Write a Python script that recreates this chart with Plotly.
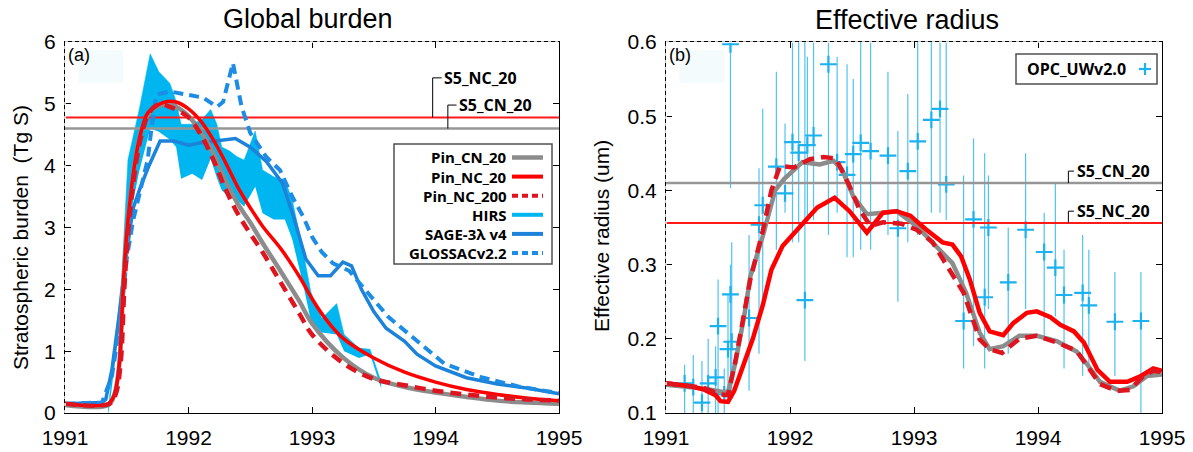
import plotly.graph_objects as go

W, H = 1193, 452

# ---------------- data ----------------
year_ticks = [1991, 1992, 1993, 1994, 1995]
year_labels = ["1991", "1992", "1993", "1994", "1995"]
burden_ticks = [0, 1, 2, 3, 4, 5, 6]
radius_ticks = [0.1, 0.2, 0.3, 0.4, 0.5, 0.6]
radius_labels = ["0.1", "0.2", "0.3", "0.4", "0.5", "0.6"]

# (a) global burden, Tg S
a_cn20_t = [1991.0, 1991.35, 1991.40, 1991.44, 1991.47, 1991.50, 1991.53, 1991.57, 1991.61, 1991.67,
            1991.72, 1991.78, 1991.85, 1991.92, 1992.0, 1992.1, 1992.2, 1992.3, 1992.4, 1992.5,
            1992.6, 1992.75, 1992.9, 1993.0, 1993.25, 1993.5, 1993.75, 1994.0, 1994.25, 1994.5,
            1994.75, 1995.0]
a_cn20_v = [0.13, 0.13, 0.30, 0.80, 2.00, 2.90, 3.50, 4.10, 4.50, 4.82,
            4.93, 4.98, 4.99, 4.93, 4.80, 4.55, 4.20, 3.75, 3.38, 3.08,
            2.75, 2.28, 1.80, 1.45, 0.90, 0.57, 0.42, 0.33, 0.26, 0.20,
            0.17, 0.15]

a_nc20_t = [1991.0, 1991.35, 1991.40, 1991.44, 1991.47, 1991.50, 1991.53, 1991.57, 1991.61, 1991.67,
            1991.75, 1991.83, 1991.90, 1992.0, 1992.1, 1992.2, 1992.3, 1992.4, 1992.5, 1992.6,
            1992.75, 1992.9, 1993.0, 1993.1, 1993.25, 1993.5, 1993.75, 1994.0, 1994.25, 1994.5,
            1994.75, 1995.0]
a_nc20_v = [0.15, 0.15, 0.30, 0.80, 2.00, 2.90, 3.50, 4.10, 4.50, 4.85,
            4.98, 5.04, 5.03, 4.92, 4.72, 4.42, 4.05, 3.65, 3.32, 3.02,
            2.65, 2.20, 1.85, 1.55, 1.21, 0.89, 0.66, 0.50, 0.38, 0.30,
            0.24, 0.20]

a_nc200_t = [1991.0, 1991.36, 1991.41, 1991.45, 1991.48, 1991.51, 1991.54, 1991.58, 1991.62, 1991.68,
             1991.76, 1991.85, 1992.0, 1992.1, 1992.2, 1992.3, 1992.4, 1992.5, 1992.6, 1992.75,
             1992.9, 1993.0, 1993.25, 1993.5, 1993.75, 1994.0, 1994.25, 1994.5, 1994.75, 1995.0]
a_nc200_v = [0.15, 0.15, 0.30, 0.80, 2.00, 2.90, 3.50, 4.10, 4.50, 4.85,
             4.99, 4.95, 4.78, 4.50, 4.10, 3.62, 3.22, 2.90, 2.60, 2.10,
             1.60, 1.27, 0.81, 0.55, 0.45, 0.36, 0.30, 0.25, 0.22, 0.20]

sage_t = [1991.0, 1991.30, 1991.33, 1991.38, 1991.44, 1991.50, 1991.55, 1991.61, 1991.68, 1991.77,
          1991.88, 1992.0, 1992.1, 1992.25, 1992.38, 1992.5, 1992.63, 1992.76, 1992.85, 1992.95,
          1993.05, 1993.15, 1993.25, 1993.32, 1993.40, 1993.5, 1993.6, 1993.75, 1993.85, 1994.0,
          1994.25, 1994.5, 1994.75, 1995.0]
sage_v = [0.15, 0.17, 0.22, 0.70, 1.60, 2.60, 3.30, 3.65, 4.00, 4.40,
          4.40, 4.33, 4.37, 4.40, 4.44, 4.30, 4.07, 3.72, 3.18, 2.49,
          2.22, 2.22, 2.44, 2.38, 2.00, 1.64, 1.37, 1.16, 0.95, 0.76,
          0.57, 0.47, 0.40, 0.31]

glossac_t = [1991.0, 1991.30, 1991.38, 1991.45, 1991.50, 1991.55, 1991.61, 1991.67, 1991.70, 1991.74,
             1991.85, 1992.0, 1992.12, 1992.23, 1992.28, 1992.36, 1992.43, 1992.50, 1992.63, 1992.74,
             1992.84, 1992.93, 1993.0, 1993.08, 1993.17, 1993.30, 1993.47, 1993.62, 1993.77, 1993.92,
             1994.07, 1994.37, 1994.67, 1995.0]
glossac_v = [0.15, 0.17, 0.60, 1.50, 2.50, 3.10, 3.60, 4.10, 4.60, 5.15,
             5.20, 5.15, 5.10, 4.95, 5.03, 5.66, 4.95, 4.53, 4.14, 3.93,
             3.50, 3.17, 2.85, 2.60, 2.42, 2.30, 1.90, 1.55, 1.30, 1.05,
             0.80, 0.58, 0.43, 0.32]

hirs_t = [1991.35, 1991.46, 1991.51, 1991.60, 1991.69, 1991.76, 1991.85, 1991.90, 1991.94, 1992.03,
          1992.11, 1992.18, 1992.23, 1992.27, 1992.33, 1992.39, 1992.45, 1992.54, 1992.60, 1992.69,
          1992.78, 1992.84, 1992.93, 1992.99, 1993.08, 1993.20, 1993.26, 1993.38, 1993.47, 1993.56]
hirs_hi = [0.05, 2.20, 4.10, 4.90, 5.81, 5.52, 5.33, 5.04, 4.67, 4.67,
           4.75, 4.91, 4.67, 4.30, 4.24, 4.15, 4.09, 4.56, 3.93, 3.82,
           3.77, 3.45, 2.60, 1.96, 1.53, 1.77, 1.27, 1.05, 1.03, 0.50]
hirs_lo = [-0.05, 1.70, 3.00, 3.90, 4.60, 4.55, 4.42, 4.30, 3.79, 3.87,
           3.77, 4.11, 3.80, 3.60, 3.50, 3.45, 3.34, 3.66, 3.23, 3.13,
           3.13, 2.81, 2.06, 1.50, 1.30, 1.27, 1.00, 0.89, 0.95, 0.40]

S5_NC_20_burden = 4.78
S5_CN_20_burden = 4.60

# (b) effective radius, um
b_cn20_t = [1991.0, 1991.2, 1991.3, 1991.44, 1991.5, 1991.56, 1991.63, 1991.68, 1991.78, 1991.88,
            1991.95, 1992.1, 1992.24, 1992.35, 1992.42, 1992.51, 1992.62, 1992.75, 1992.86, 1993.02,
            1993.15, 1993.26, 1993.31, 1993.42, 1993.53, 1993.61, 1993.72, 1993.85, 1993.99, 1994.15,
            1994.31, 1994.39, 1994.5, 1994.66, 1994.77, 1994.88, 1995.0]
b_cn20_v = [0.138, 0.135, 0.133, 0.129, 0.128, 0.168, 0.230, 0.284, 0.338, 0.400,
            0.415, 0.438, 0.435, 0.440, 0.428, 0.392, 0.368, 0.370, 0.372, 0.352,
            0.330, 0.311, 0.302, 0.262, 0.208, 0.186, 0.190, 0.204, 0.204, 0.197,
            0.183, 0.167, 0.142, 0.130, 0.136, 0.150, 0.152]

b_nc20_t = [1991.0, 1991.2, 1991.3, 1991.4, 1991.44, 1991.5, 1991.55, 1991.6, 1991.7, 1991.78,
            1991.85, 1991.94, 1992.08, 1992.22, 1992.36, 1992.48, 1992.62, 1992.75, 1992.86, 1992.97,
            1993.1, 1993.23, 1993.31, 1993.38, 1993.45, 1993.53, 1993.61, 1993.72, 1993.8, 1993.91,
            1993.99, 1994.1, 1994.18, 1994.29, 1994.37, 1994.48, 1994.58, 1994.72, 1994.82, 1994.93,
            1995.0]
b_nc20_v = [0.140, 0.136, 0.132, 0.124, 0.116, 0.115, 0.130, 0.154, 0.200, 0.245,
            0.293, 0.325, 0.352, 0.377, 0.390, 0.372, 0.343, 0.370, 0.372, 0.366,
            0.347, 0.330, 0.327, 0.311, 0.280, 0.235, 0.210, 0.205, 0.221, 0.235,
            0.237, 0.229, 0.219, 0.210, 0.195, 0.158, 0.142, 0.142, 0.149, 0.160,
            0.157]

b_nc200_t = [1991.0, 1991.2, 1991.3, 1991.44, 1991.5, 1991.56, 1991.63, 1991.68, 1991.78, 1991.85,
             1991.92, 1992.03, 1992.16, 1992.27, 1992.37, 1992.48, 1992.56, 1992.65, 1992.75, 1992.9,
             1993.02, 1993.15, 1993.26, 1993.4, 1993.53, 1993.61, 1993.71, 1993.85, 1993.99, 1994.15,
             1994.31, 1994.42, 1994.5, 1994.63, 1994.74, 1994.85, 1994.93, 1995.0]
b_nc200_v = [0.140, 0.137, 0.134, 0.125, 0.124, 0.170, 0.235, 0.280, 0.345, 0.400,
             0.433, 0.431, 0.442, 0.445, 0.443, 0.406, 0.374, 0.352, 0.357, 0.355,
             0.347, 0.330, 0.300, 0.262, 0.199, 0.186, 0.181, 0.200, 0.204, 0.195,
             0.184, 0.159, 0.139, 0.130, 0.131, 0.150, 0.157, 0.155]

opc_t = [1991.15, 1991.22, 1991.29, 1991.34, 1991.40, 1991.42, 1991.47, 1991.50, 1991.52, 1991.53,
         1991.52, 1991.67, 1991.75, 1991.78, 1991.89, 1991.96, 1992.02, 1992.07, 1992.12, 1992.14,
         1992.19, 1992.31, 1992.38, 1992.46, 1992.51, 1992.57, 1992.65, 1992.79, 1992.87, 1992.95,
         1993.03, 1993.14, 1993.21, 1993.26, 1993.40, 1993.48, 1993.57, 1993.60, 1993.76, 1993.90,
         1994.05, 1994.14, 1994.21, 1994.36, 1994.41, 1994.62, 1994.83]
opc_v = [0.140, 0.135, 0.114, 0.140, 0.148, 0.217, 0.125, 0.186, 0.260, 0.196,
         0.597, 0.228, 0.354, 0.380, 0.432, 0.396, 0.465, 0.451, 0.252, 0.461,
         0.474, 0.570, 0.438, 0.421, 0.449, 0.464, 0.453, 0.447, 0.349, 0.426,
         0.466, 0.495, 0.510, 0.408, 0.224, 0.361, 0.256, 0.350, 0.276, 0.347,
         0.317, 0.296, 0.259, 0.262, 0.245, 0.223, 0.224]
opc_top = [0.165, 0.178, 0.170, 0.200, 0.190, 0.280, 0.160, 0.260, 0.300, 0.330,
           0.650, 0.340, 0.430, 0.510, 0.560, 0.490, 0.620, 0.600, 0.620, 0.580,
           0.620, 0.620, 0.580, 0.570, 0.550, 0.620, 0.620, 0.560, 0.480, 0.530,
           0.620, 0.620, 0.620, 0.620, 0.420, 0.470, 0.450, 0.420, 0.350, 0.450,
           0.370, 0.410, 0.320, 0.340, 0.320, 0.290, 0.290]
opc_bot = [0.090, 0.080, 0.080, 0.080, 0.090, 0.090, 0.100, 0.120, 0.150, 0.120,
           0.403, 0.130, 0.180, 0.250, 0.320, 0.370, 0.330, 0.330, 0.170, 0.360,
           0.360, 0.340, 0.370, 0.310, 0.310, 0.320, 0.320, 0.340, 0.250, 0.330,
           0.340, 0.370, 0.370, 0.360, 0.160, 0.190, 0.160, 0.240, 0.180, 0.240,
           0.200, 0.230, 0.160, 0.150, 0.160, 0.150, 0.090]

S5_CN_20_radius = 0.410
S5_NC_20_radius = 0.356

legend_a_names = ["Pin_CN_20", "Pin_NC_20", "Pin_NC_200", "HIRS", "SAGE-3\u03bb v4", "GLOSSACv2.2"]
legend_b_name = "OPC_UWv2.0"

# ---------------- styles ----------------
GRAY = "rgb(140,140,140)"
RED = "rgb(255,0,0)"
RED_D = "rgb(222,20,30)"
HIRS_C = "rgb(0,182,240)"
SAGE_C = "rgb(28,130,218)"
GLOS_C = "rgb(28,140,228)"
OPC_C = "rgb(28,178,240)"
HL_GRAY = "rgb(150,150,150)"
HL_RED = "rgb(255,25,25)"
TICKFONT = dict(family="Liberation Sans, Arial", size=21, color="black")
BOLD = "Open Sans"

def px(x):
    return x / W

def py(y):
    return 1 - y / H

fig = go.Figure()

# ---- panel (a) ----
fig.add_trace(go.Scatter(x=hirs_t, y=hirs_lo, mode="lines", line=dict(width=0, color=HIRS_C),
                         xaxis="x", yaxis="y", showlegend=False, hoverinfo="skip"))
fig.add_trace(go.Scatter(x=hirs_t, y=hirs_hi, mode="lines", line=dict(width=0.5, color=HIRS_C),
                         fill="tonexty", fillcolor=HIRS_C, xaxis="x", yaxis="y", showlegend=False))
fig.add_trace(go.Scatter(x=[year_ticks[0], year_ticks[-1]], y=[S5_NC_20_burden] * 2, mode="lines",
                         line=dict(color=HL_RED, width=2), xaxis="x", yaxis="y", showlegend=False))
fig.add_trace(go.Scatter(x=[year_ticks[0], year_ticks[-1]], y=[S5_CN_20_burden] * 2, mode="lines",
                         line=dict(color=HL_GRAY, width=2.5), xaxis="x", yaxis="y", showlegend=False))
fig.add_trace(go.Scatter(x=sage_t, y=sage_v, mode="lines", line=dict(color=SAGE_C, width=3.5),
                         xaxis="x", yaxis="y", showlegend=False))
fig.add_trace(go.Scatter(x=glossac_t, y=glossac_v, mode="lines",
                         line=dict(color=GLOS_C, width=4, dash="10px,6px"),
                         xaxis="x", yaxis="y", showlegend=False))
fig.add_trace(go.Scatter(x=a_cn20_t, y=a_cn20_v, mode="lines", line=dict(color=GRAY, width=4.5, shape="spline"),
                         xaxis="x", yaxis="y", showlegend=False))
fig.add_trace(go.Scatter(x=a_nc20_t, y=a_nc20_v, mode="lines", line=dict(color=RED, width=3.5, shape="spline"),
                         xaxis="x", yaxis="y", showlegend=False))
fig.add_trace(go.Scatter(x=a_nc200_t, y=a_nc200_v, mode="lines",
                         line=dict(color=RED_D, width=4.5, dash="11px,7px", shape="spline"),
                         xaxis="x", yaxis="y", showlegend=False))

# ---- panel (b) ----
fig.add_trace(go.Scatter(
    x=opc_t, y=opc_v, mode="markers", xaxis="x2", yaxis="y2", showlegend=False,
    marker=dict(symbol="cross-thin", size=12, line=dict(color=OPC_C, width=2.2), color=OPC_C),
    error_y=dict(type="data", symmetric=False,
                 array=[t - v for t, v in zip(opc_top, opc_v)],
                 arrayminus=[v - b for v, b in zip(opc_v, opc_bot)],
                 color="rgb(80,195,240)", thickness=1.2, width=0)))
fig.add_trace(go.Scatter(x=[year_ticks[0], year_ticks[-1]], y=[S5_CN_20_radius] * 2, mode="lines",
                         line=dict(color=HL_GRAY, width=2.5), xaxis="x2", yaxis="y2", showlegend=False))
fig.add_trace(go.Scatter(x=[year_ticks[0], year_ticks[-1]], y=[S5_NC_20_radius] * 2, mode="lines",
                         line=dict(color=HL_RED, width=2), xaxis="x2", yaxis="y2", showlegend=False))
fig.add_trace(go.Scatter(x=b_cn20_t, y=b_cn20_v, mode="lines", line=dict(color=GRAY, width=4.5),
                         xaxis="x2", yaxis="y2", showlegend=False))
fig.add_trace(go.Scatter(x=b_nc20_t, y=b_nc20_v, mode="lines", line=dict(color=RED, width=4.5),
                         xaxis="x2", yaxis="y2", showlegend=False))
fig.add_trace(go.Scatter(x=b_nc200_t, y=b_nc200_v, mode="lines",
                         line=dict(color=RED_D, width=4.5, dash="12px,7px"),
                         xaxis="x2", yaxis="y2", showlegend=False))

# ---------------- axes ----------------
ydom = [py(413), py(42)]
common_x = dict(range=[1991, 1995], tickvals=year_ticks, ticktext=year_labels, ticks="inside",
                ticklen=6, tickwidth=1, tickcolor="black", showline=True, linecolor="black",
                linewidth=1, mirror="ticks", showgrid=False, zeroline=False, tickfont=TICKFONT,
                ticklabelstandoff=6, automargin=False)
common_y = dict(ticks="inside", ticklen=6, tickwidth=1, tickcolor="black", showline=True,
                linecolor="black", linewidth=1, mirror="ticks", showgrid=False, zeroline=False,
                tickfont=TICKFONT, ticklabelstandoff=4, automargin=False)

fig.update_layout(
    width=W, height=H, margin=dict(l=0, r=0, t=0, b=0, autoexpand=False),
    paper_bgcolor="white", plot_bgcolor="white", showlegend=False,
    xaxis=dict(domain=[px(65), px(559)], anchor="y", **common_x),
    yaxis=dict(domain=ydom, anchor="x", range=[0, 6], tickvals=burden_ticks, **common_y),
    xaxis2=dict(domain=[px(666), px(1162)], anchor="y2", **common_x),
    yaxis2=dict(domain=ydom, anchor="x2", range=[0.1, 0.6], tickvals=radius_ticks,
                ticktext=radius_labels, **common_y),
)

shapes = []
annots = []

# faint boxes near panel labels
for xr, yr in (("x domain", "y domain"), ("x2 domain", "y2 domain")):
    shapes.append(dict(type="rect", xref=xr, yref=yr, x0=0.027, x1=0.118, y0=0.89, y1=0.978,
                       fillcolor="rgb(244,251,252)", line=dict(width=0), layer="below"))

# dashed look for left and top frame edges
for xr, yr in (("x domain", "y domain"), ("x2 domain", "y2 domain")):
    shapes.append(dict(type="line", xref=xr, yref=yr, x0=0, x1=0, y0=0, y1=1,
                       line=dict(color="white", width=1.5, dash="3px,4px")))
    shapes.append(dict(type="line", xref=xr, yref=yr, x0=0, x1=1, y0=1, y1=1,
                       line=dict(color="white", width=1.5, dash="3px,4px")))

# titles
TF = dict(family="Liberation Sans, Arial", color="black")
annots.append(dict(text="Global burden", x=px(308), y=py(19), xref="paper", yref="paper",
                   xanchor="center", yanchor="middle", showarrow=False, font=dict(size=27, **TF)))
annots.append(dict(text="Effective radius", x=px(907), y=py(20), xref="paper", yref="paper",
                   xanchor="center", yanchor="middle", showarrow=False, font=dict(size=27, **TF)))
annots.append(dict(text="Stratospheric burden  (Tg S)", x=px(20), y=py(238), xref="paper", yref="paper",
                   xanchor="center", yanchor="middle", textangle=-90, showarrow=False,
                   font=dict(size=21, **TF)))
annots.append(dict(text="Effective radius (um)", x=px(601), y=py(236), xref="paper", yref="paper",
                   xanchor="center", yanchor="middle", textangle=-90, showarrow=False,
                   font=dict(size=21, **TF)))
annots.append(dict(text="(a)", x=0.003, y=0.965, xref="x domain", yref="y domain", xanchor="left",
                   yanchor="middle", showarrow=False, font=dict(size=18, **TF)))
annots.append(dict(text="(b)", x=0.003, y=0.965, xref="x2 domain", yref="y2 domain", xanchor="left",
                   yanchor="middle", showarrow=False, font=dict(size=18, **TF)))

# bracket labels for S5 reference lines
def bracket(xr, yr, xv, y0, y1, xh, xt, text):
    shapes.append(dict(type="path", xref=xr, yref=yr,
                       path=f"M {xv},{y0} L {xv},{y1} L {xh},{y1}",
                       line=dict(color="black", width=1)))
    annots.append(dict(text=f"<b>{text}</b>", x=xt, y=y1, xref=xr, yref=yr, xanchor="left",
                       yanchor="middle", showarrow=False,
                       font=dict(family=BOLD, size=16, color="black")))

bracket("x", "y", 1993.977, S5_NC_20_burden, 5.42, 1994.05, 1994.055, "S5_NC_20")
bracket("x", "y", 1994.10, S5_CN_20_burden, 4.98, 1994.17, 1994.175, "S5_CN_20")
bracket("x2", "y2", 1994.245, S5_CN_20_radius, 0.426, 1994.29, 1994.30, "S5_CN_20")
bracket("x2", "y2", 1994.245, S5_NC_20_radius, 0.372, 1994.29, 1994.30, "S5_NC_20")

# legend (a)
shapes.append(dict(type="rect", xref="paper", yref="paper", x0=px(394), x1=px(552), y0=py(264), y1=py(144),
                   line=dict(color="rgb(80,80,80)", width=1.5), fillcolor="rgba(255,255,255,0)"))
leg_styles = [(GRAY, "solid", 4.5), (RED, "solid", 4), (RED_D, "6px,4px", 4), (HIRS_C, "solid", 4),
              (SAGE_C, "solid", 4), (GLOS_C, "6px,4px", 4)]
for i, (name, (col, dash, lw)) in enumerate(zip(legend_a_names, leg_styles)):
    yy = 157.5 + i * 19.1
    shapes.append(dict(type="line", xref="paper", yref="paper", x0=px(512), x1=px(543), y0=py(yy), y1=py(yy),
                       line=dict(color=col, width=lw, dash=dash)))
    annots.append(dict(text=f"<b>{name}</b>", x=px(508), y=py(yy), xref="paper", yref="paper",
                       xanchor="right", yanchor="middle", showarrow=False, borderpad=0,
                       font=dict(family=BOLD, size=15, color="black")))

# legend (b)
shapes.append(dict(type="rect", xref="paper", yref="paper", x0=px(1016), x1=px(1157), y0=py(84), y1=py(54),
                   line=dict(color="rgb(80,80,80)", width=1.5), fillcolor="rgba(255,255,255,0)"))
annots.append(dict(text=f"<b>{legend_b_name}</b>", x=px(1128), y=py(69), xref="paper", yref="paper",
                   xanchor="right", yanchor="middle", showarrow=False,
                   font=dict(family=BOLD, size=16, color="black")))
shapes.append(dict(type="line", xref="paper", yref="paper", x0=px(1139), x1=px(1151), y0=py(69), y1=py(69),
                   line=dict(color=OPC_C, width=2.2)))
shapes.append(dict(type="line", xref="paper", yref="paper", x0=px(1145), x1=px(1145), y0=py(63), y1=py(75),
                   line=dict(color=OPC_C, width=2.2)))

fig.update_layout(shapes=shapes, annotations=annots)
fig.write_html("out.html")
